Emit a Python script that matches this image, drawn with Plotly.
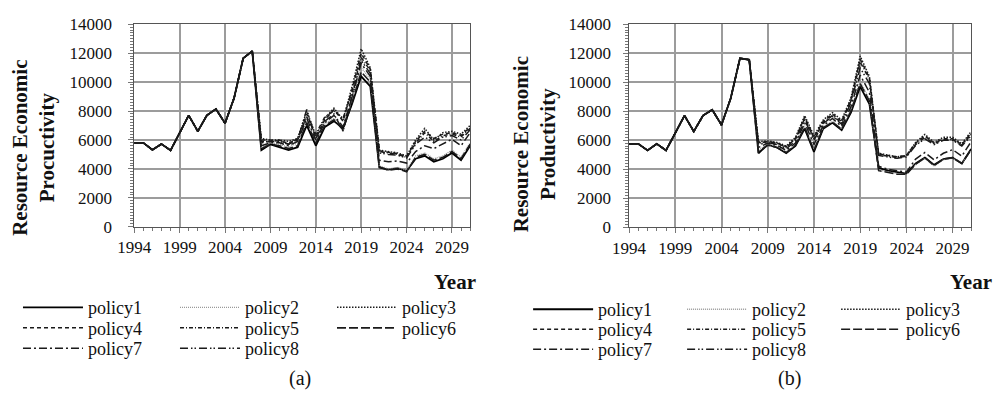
import plotly.graph_objects as go

years = list(range(1994, 2032))
policy_names = ["policy1", "policy2", "policy3", "policy4",
                "policy5", "policy6", "policy7", "policy8"]
x_tick_years = [1994, 1999, 2004, 2009, 2014, 2019, 2024, 2029]

# Observed history, 1994-2007 (shared by every policy)
hist_a = [5800, 5800, 5320, 5720, 5280, 6500, 7700, 6600, 7700, 8140, 7150, 8900, 11650, 12140]
hist_b = [5750, 5750, 5300, 5750, 5300, 6500, 7700, 6600, 7700, 8100, 7050, 8900, 11650, 11550]

# Simulated values per policy, 2008-2031 -- scenario (a)
a_policy1 = [5300, 5700, 5500, 5300, 5500, 7000, 5600, 6900, 7300, 6800, 8500, 10400, 9700, 4100, 3950, 4050, 3850, 4700, 4900, 4500, 4700, 5100, 4600, 5600]
a_policy2 = [5500, 5800, 5700, 5500, 5800, 7300, 5900, 7100, 7500, 7000, 8800, 11000, 10200, 4200, 4000, 4100, 3900, 4900, 5100, 4700, 4900, 5300, 4800, 5800]
a_policy3 = [6100, 6000, 6000, 5900, 6100, 8000, 6300, 7500, 8200, 7400, 9700, 12300, 11000, 5300, 5200, 5100, 4900, 6000, 6800, 6000, 6500, 6600, 6400, 7000]
a_policy4 = [6000, 6000, 5900, 5800, 6000, 7800, 6200, 7400, 8100, 7300, 9500, 12000, 10900, 5250, 5150, 5050, 4850, 5900, 6600, 6100, 6400, 6500, 6300, 6900]
a_policy5 = [5900, 5900, 6000, 5700, 6100, 7600, 6400, 7600, 8000, 7500, 9300, 11700, 10800, 5200, 5100, 5000, 4800, 5800, 6500, 5900, 6300, 6400, 6200, 6800]
a_policy6 = [5400, 5700, 5600, 5400, 5600, 7200, 5800, 7000, 7400, 6700, 8600, 10700, 10000, 4150, 3900, 4000, 3800, 4800, 5000, 4600, 4800, 5200, 4700, 5700]
a_policy7 = [5600, 5800, 5800, 5600, 5900, 7500, 6000, 7200, 7700, 6900, 9000, 11300, 10400, 4600, 4500, 4550, 4400, 5200, 5600, 5400, 5700, 6050, 5600, 6500]
a_policy8 = [5800, 5900, 5900, 5700, 6000, 8100, 6100, 7300, 7800, 6600, 9100, 11500, 10600, 5100, 5000, 4950, 4750, 5700, 6200, 5800, 6200, 6300, 6000, 6700]

# Simulated values per policy, 2008-2031 -- scenario (b)
b_policy1 = [5100, 5700, 5500, 5100, 5600, 6800, 5200, 6800, 7200, 6700, 7900, 9700, 8500, 4100, 3900, 3800, 3700, 4400, 4800, 4300, 4700, 4800, 4400, 5400]
b_policy2 = [5300, 5750, 5550, 5200, 5700, 7000, 5400, 6900, 7300, 6800, 8100, 10100, 8800, 3950, 3800, 3700, 3650, 4300, 4750, 4200, 4650, 4750, 4450, 5300]
b_policy3 = [5900, 5950, 5850, 5600, 6200, 7700, 6300, 7400, 7900, 7400, 8900, 11800, 10400, 5100, 4950, 4850, 4950, 5850, 6400, 5850, 6200, 6200, 5750, 6600]
b_policy4 = [5850, 5900, 5800, 5550, 6100, 7600, 6200, 7300, 7800, 7300, 8800, 11600, 10300, 5050, 4950, 4850, 4950, 5800, 6300, 5800, 6100, 6100, 5700, 6500]
b_policy5 = [5800, 5900, 5800, 5500, 6100, 7500, 6100, 7200, 7700, 7200, 8700, 11400, 10200, 5000, 4900, 4800, 4900, 5700, 6200, 5750, 6050, 6050, 5650, 6400]
b_policy6 = [5200, 5650, 5500, 5150, 5650, 6900, 5300, 6850, 7250, 6750, 8000, 9900, 8700, 3900, 3750, 3650, 3650, 4350, 4800, 4250, 4700, 4800, 4400, 5350]
b_policy7 = [5500, 5800, 5650, 5300, 5800, 7200, 5700, 7000, 7500, 6950, 8300, 10500, 9300, 4200, 4000, 3900, 3800, 4700, 5150, 4650, 5100, 5350, 4900, 5900]
b_policy8 = [5700, 5850, 5700, 5400, 5950, 7400, 6000, 7150, 7650, 7100, 8600, 11000, 9900, 4950, 4850, 4750, 4850, 5650, 6100, 5700, 6000, 6000, 5600, 6300]

runs_a = [a_policy1, a_policy2, a_policy3, a_policy4, a_policy5, a_policy6, a_policy7, a_policy8]
runs_b = [b_policy1, b_policy2, b_policy3, b_policy4, b_policy5, b_policy6, b_policy7, b_policy8]

# Line style of each policy
dashes = ["solid", "1px,1px", "1.5px,1.5px", "4px,3px",
          "4px,2px,1px,2px", "9px,3px", "8px,3px,2px,3px", "8px,3px,1.5px,2px,1.5px,3px"]
colors = ["#000000", "#9a9a9a", "#1a1a1a", "#1a1a1a",
          "#1a1a1a", "#1a1a1a", "#1a1a1a", "#1a1a1a"]
widths = [1.8, 1.3, 1.5, 1.5, 1.5, 1.6, 1.5, 1.5]

SERIF = "Liberation Serif, Times New Roman, serif"
W, H = 994, 403
NBSP = "\u00a0"

fig = go.Figure()

# one horizontal legend per legend row (3 entries each) under each panel
panels = [
    ("x", "y", hist_a, runs_a, ["legend", "legend2", "legend3"]),
    ("x2", "y2", hist_b, runs_b, ["legend4", "legend5", "legend6"]),
]
for xa, ya, hist, runs, legs in panels:
    for i, name in enumerate(policy_names):
        fig.add_trace(go.Scatter(
            x=years, y=hist + runs[i], mode="lines", name=name,
            xaxis=xa, yaxis=ya, legend=legs[i // 3],
            line=dict(color=colors[i], width=widths[i], dash=dashes[i]),
        ))

def px_x(v):
    return v / W

def px_y(v):
    return 1 - v / H

axis_common = dict(
    showline=True, linecolor="#555555", linewidth=1.3, mirror=True,
    showgrid=True, gridcolor="#9c9c9c", gridwidth=1.7,
    ticks="outside", tickcolor="#777777", ticklen=5,
    tickfont=dict(family=SERIF, size=17, color="#111111"),
    zeroline=False,
)
minor_x = dict(ticks="outside", dtick=1, ticklen=3, tickcolor="#777777", showgrid=False)
minor_y = dict(ticks="outside", dtick=200, ticklen=3, tickcolor="#777777", showgrid=False)

fig.update_layout(
    width=W, height=H,
    margin=dict(l=0, r=0, t=0, b=0),
    paper_bgcolor="white", plot_bgcolor="white",
    xaxis=dict(domain=[px_x(119.3), px_x(461)], anchor="y",
               range=[1994, 2031], tickvals=x_tick_years, minor=minor_x, **axis_common),
    yaxis=dict(domain=[px_y(228.5), px_y(16)], anchor="x",
               range=[0, 14000], dtick=2000, tickformat="d", ticksuffix=NBSP * 3,
               minor=minor_y, **axis_common),
    xaxis2=dict(domain=[px_x(622.7), px_x(970.7)], anchor="y2",
                range=[1994, 2031], tickvals=x_tick_years, minor=minor_x, **axis_common),
    yaxis2=dict(domain=[px_y(229), px_y(16)], anchor="x2",
                range=[0, 14000], dtick=2000, tickformat="d", ticksuffix=NBSP * 2,
                minor=minor_y, **axis_common),
)

leg_style = dict(orientation="h", bgcolor="rgba(0,0,0,0)", borderwidth=0,
                 font=dict(family=SERIF, size=18, color="#111111"),
                 itemwidth=60, entrywidthmode="pixels",
                 xanchor="left", yanchor="top", traceorder="normal")
leg_rows = {
    "legend": (1, 294, 82), "legend2": (1, 315.5, 82), "legend3": (1, 337, 82),
    "legend4": (520, 296, 79), "legend5": (520, 317, 79), "legend6": (520, 338, 79),
}
for key, (left, top, ew) in leg_rows.items():
    fig.update_layout({key: dict(x=px_x(left), y=px_y(top), entrywidth=ew, **leg_style)})

annotations = [
    dict(text="<b>Resource Economic<br>Procuctivity</b>", x=px_x(16), y=px_y(146),
         textangle=-90, font=dict(family=SERIF, size=21, color="#111111")),
    dict(text="<b>Resource Economic<br>Productivity</b>", x=px_x(526), y=px_y(142),
         textangle=-90, font=dict(family=SERIF, size=21, color="#111111")),
    dict(text="<b>Year</b>", x=px_x(446), y=px_y(287),
         font=dict(family=SERIF, size=21, color="#111111")),
    dict(text="<b>Year</b>", x=px_x(947), y=px_y(287), xanchor="left",
         font=dict(family=SERIF, size=21, color="#111111")),
    dict(text="(a)", x=px_x(288), y=px_y(388),
         font=dict(family=SERIF, size=20, color="#111111")),
    dict(text="(b)", x=px_x(786), y=px_y(388),
         font=dict(family=SERIF, size=20, color="#111111")),
]
for a in annotations:
    a.setdefault("xanchor", "center")
    a.update(xref="paper", yref="paper", yanchor="middle", showarrow=False)
fig.update_layout(annotations=annotations)

fig.write_html("out.html")
